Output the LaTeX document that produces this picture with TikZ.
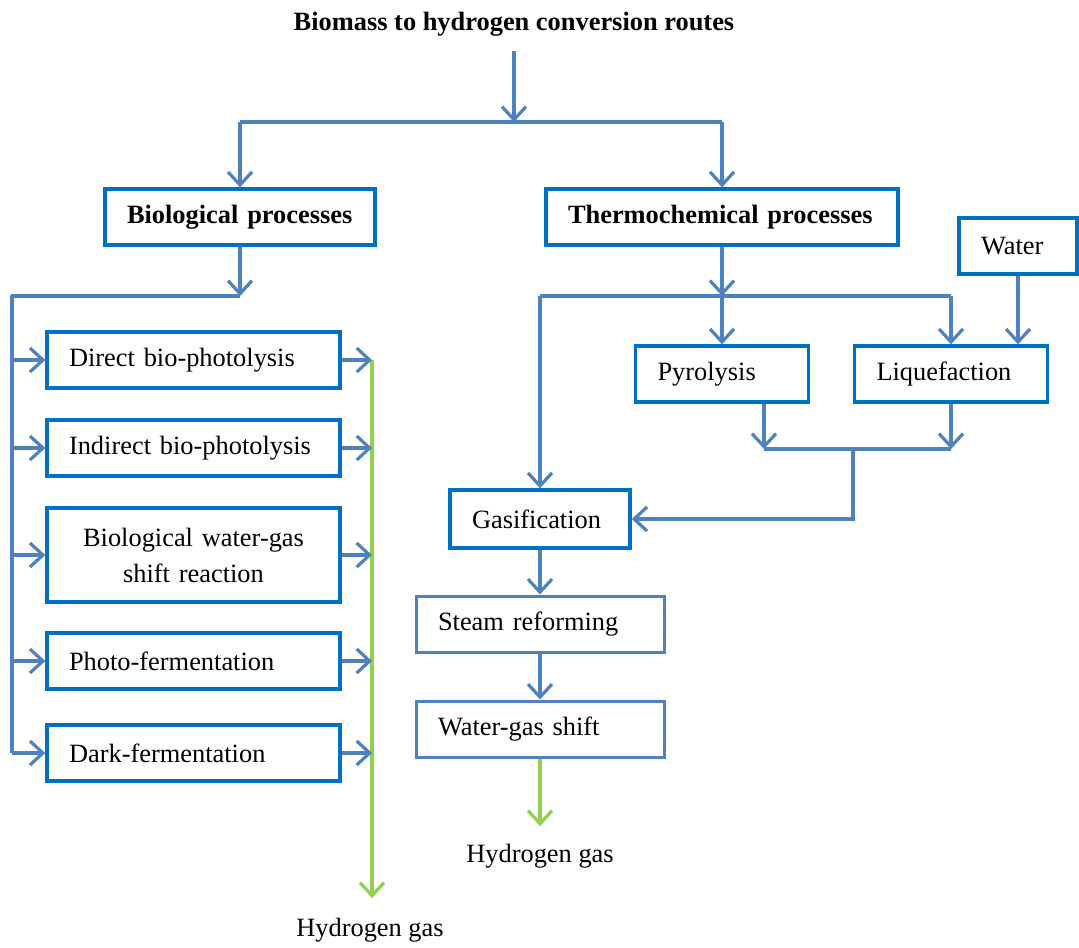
\documentclass[tikz,border=0pt]{standalone}
\usepackage{fontspec}
\setmainfont{Liberation Serif}
\usetikzlibrary{arrows.meta}
\definecolor{boxblue}{RGB}{0,112,192}
\definecolor{lineblue}{RGB}{79,129,189}
\definecolor{hgreen}{RGB}{146,208,80}
\tikzset{
  box/.style={draw=boxblue, line width=1.7pt, inner xsep=11pt, align=left,
    minimum height=28pt, font=\fontsize{13.2}{18}\selectfont},
  lbox/.style={box, draw=lineblue, line width=1.5pt},
  conn/.style={draw=lineblue, line width=1.6pt},
  arr/.style={conn, -{Straight Barb[length=6.5pt,width=12pt]}},
  garr/.style={arr, draw=hgreen}
}
\begin{document}
\begin{tikzpicture}[x=0.5pt,y=-0.5pt]
\useasboundingbox (0,0) rectangle (1079,947);
\node[font=\bfseries\fontsize{13.2}{15}\selectfont] (title) at (514,24) {Biomass to hydrogen conversion routes};
\node[box, text width=113pt] (bio) at (240,217) {\textbf{Biological processes}};
\node[box, text width=154pt] (thermo) at (722,217) {\textbf{Thermochemical processes}};
\node[box, text width=37pt] (water) at (1018,246) {Water};
\node[box, text width=124.5pt] (direct) at (193.5,360) {Direct bio-photolysis};
\node[box, text width=124.5pt] (indirect) at (193.5,448) {Indirect bio-photolysis};
\node[box, text width=124.5pt, align=center, minimum height=47pt] (bwgs) at (193.5,555) {Biological water-gas\\shift reaction};
\node[box, text width=124.5pt] (photo) at (193.5,661) {Photo-fermentation};
\node[box, text width=124.5pt] (dark) at (193.5,753) {Dark-fermentation};
\node[box, text width=64.5pt] (pyro) at (722,374) {Pyrolysis};
\node[box, text width=74.5pt] (liq) at (951,374) {Liquefaction};
\node[box, text width=68pt, minimum height=29pt] (gasif) at (540,519) {Gasification};
\node[lbox, text width=102pt] (steam) at (540,624) {Steam reforming};
\node[lbox, text width=102pt] (wgs) at (540,729) {Water-gas shift};
\node[font=\fontsize{13.2}{15}\selectfont] (hyd1) at (370,930) {Hydrogen gas};
\node[font=\fontsize{13.2}{15}\selectfont] (hyd2) at (540,856) {Hydrogen gas};
\coordinate (top) at (514,122);
\coordinate (bsplit) at (240,296);
\coordinate (bleft) at (12,296);
\coordinate (tsplit) at (722,296);
\coordinate (pjoin) at (764,449);
\coordinate (ljoin) at (951,449);
\coordinate (mjoin) at (853,449);
\coordinate (gend) at (372,898);
\coordinate (hend) at (540,826);
\draw[arr, shorten <=4pt] (title) -- (top);
\draw[conn] (bio |- top) -- (thermo |- top);
\draw[arr] (bio |- top) -- (bio);
\draw[arr] (thermo |- top) -- (thermo);
\draw[arr] (bio) -- (bsplit);
\draw[conn, line join=round] (bsplit) -- (bleft) -- (bleft |- dark.west);
\draw[garr] (gend |- direct.east) -- (gend);
\foreach \b in {direct,indirect,bwgs,photo,dark}{
  \draw[arr] (bleft |- \b.west) -- (\b.west);
  \draw[arr] (\b.east) -- (\b.east -| gend);
}
\draw[arr] (thermo) -- (tsplit);
\draw[conn] (gasif |- tsplit) -- (liq |- tsplit);
\draw[arr] (tsplit) -- (pyro);
\draw[arr] (liq |- tsplit) -- (liq);
\draw[arr] (gasif |- tsplit) -- (gasif);
\draw[arr] (water) -- (water |- liq.north);
\draw[arr] (pjoin |- pyro.south) -- (pjoin);
\draw[arr] (liq) -- (ljoin);
\draw[conn] (pjoin) -- (ljoin);
\draw[arr] (mjoin) |- (gasif);
\draw[arr] (gasif) -- (steam);
\draw[arr] (steam) -- (wgs);
\draw[garr] (wgs) -- (hend);
\end{tikzpicture}
\end{document}
